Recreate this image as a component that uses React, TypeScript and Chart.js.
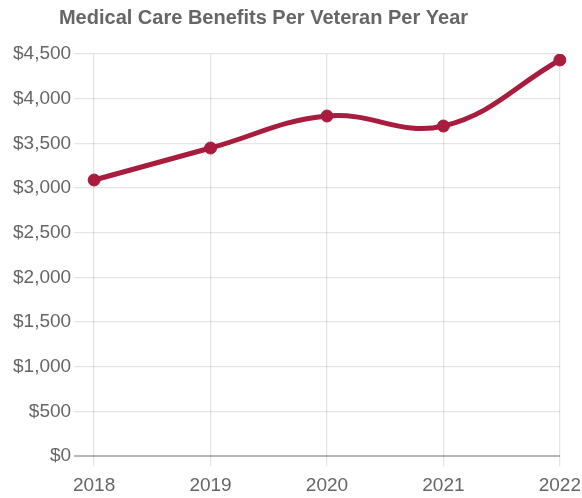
import React, { useEffect, useRef } from "react";
import { Chart, registerables } from "chart.js";

Chart.register(...registerables);

const years = ["2018", "2019", "2020", "2021", "2022"];
const benefitsPerVeteran = [3090, 3448, 3806, 3694, 4433];
const yMin = 0;
const yMax = 4500;
const yStep = 500;
const titleText = "Medical Care Benefits Per Veteran Per Year";

const FONT = "'Liberation Sans', Arial, Helvetica, sans-serif";
const LINE_COLOR = "#a81c3e";

const titleShift = {
  id: "titleShift",
  afterLayout(chart: any) {
    const tb = chart.titleBlock;
    if (tb) {
      tb.left = 0;
      tb.right = 527;
    }
  },
};

export default function App() {
  const ref = useRef<HTMLCanvasElement | null>(null);
  useEffect(() => {
    if (!ref.current) return;
    const chart = new Chart(ref.current, {
      type: "line",
      data: {
        labels: years,
        datasets: [
          {
            label: titleText,
            data: benefitsPerVeteran,
            borderColor: LINE_COLOR,
            backgroundColor: LINE_COLOR,
            borderWidth: 5,
            pointRadius: 6,
            pointBorderWidth: 1,
            pointBackgroundColor: LINE_COLOR,
            pointBorderColor: LINE_COLOR,
            tension: 0.4,
            fill: false,
          },
        ],
      },
      plugins: [titleShift],
      options: {
        animation: false,
        responsive: true,
        maintainAspectRatio: false,
        layout: { padding: { left: 10, right: 0, top: 0, bottom: -7 } },
        plugins: {
          legend: { display: false },
          tooltip: { enabled: false },
          title: {
            display: true,
            text: titleText,
            color: "#666",
            font: { family: FONT, size: 20, weight: "bold" },
            padding: { top: 6, bottom: 24 },
          },
        },
        scales: {
          x: {
            offset: false,
            grid: { color: "rgba(0,0,0,0.1)", tickLength: 10, lineWidth: 1.3 },
            border: { display: false },
            ticks: {
              color: "#666",
              font: { family: FONT, size: 19 },
              maxRotation: 0,
              padding: 8,
            },
          },
          y: {
            min: yMin,
            max: yMax,
            grid: {
              color: (ctx: any) => (ctx.tick && ctx.tick.value === 0 ? "rgba(0,0,0,0.28)" : "rgba(0,0,0,0.1)"),
              lineWidth: (ctx: any) => (ctx.tick && ctx.tick.value === 0 ? 2 : 1.3),
              tickLength: 20,
            },
            border: { display: false },
            ticks: {
              stepSize: yStep,
              color: "#666",
              font: { family: FONT, size: 19 },
              padding: 3,
              callback: (v: any) => "$" + Number(v).toLocaleString("en-US"),
            },
          },
        },
      },
    });
    return () => chart.destroy();
  }, []);
  return (
    <div style={{ position: "absolute", left: 0, top: 0, width: 582, height: 498, overflow: "hidden" }}>
      <div style={{ position: "relative", width: 589, height: 498 }}>
        <canvas ref={ref} />
      </div>
    </div>
  );
}
